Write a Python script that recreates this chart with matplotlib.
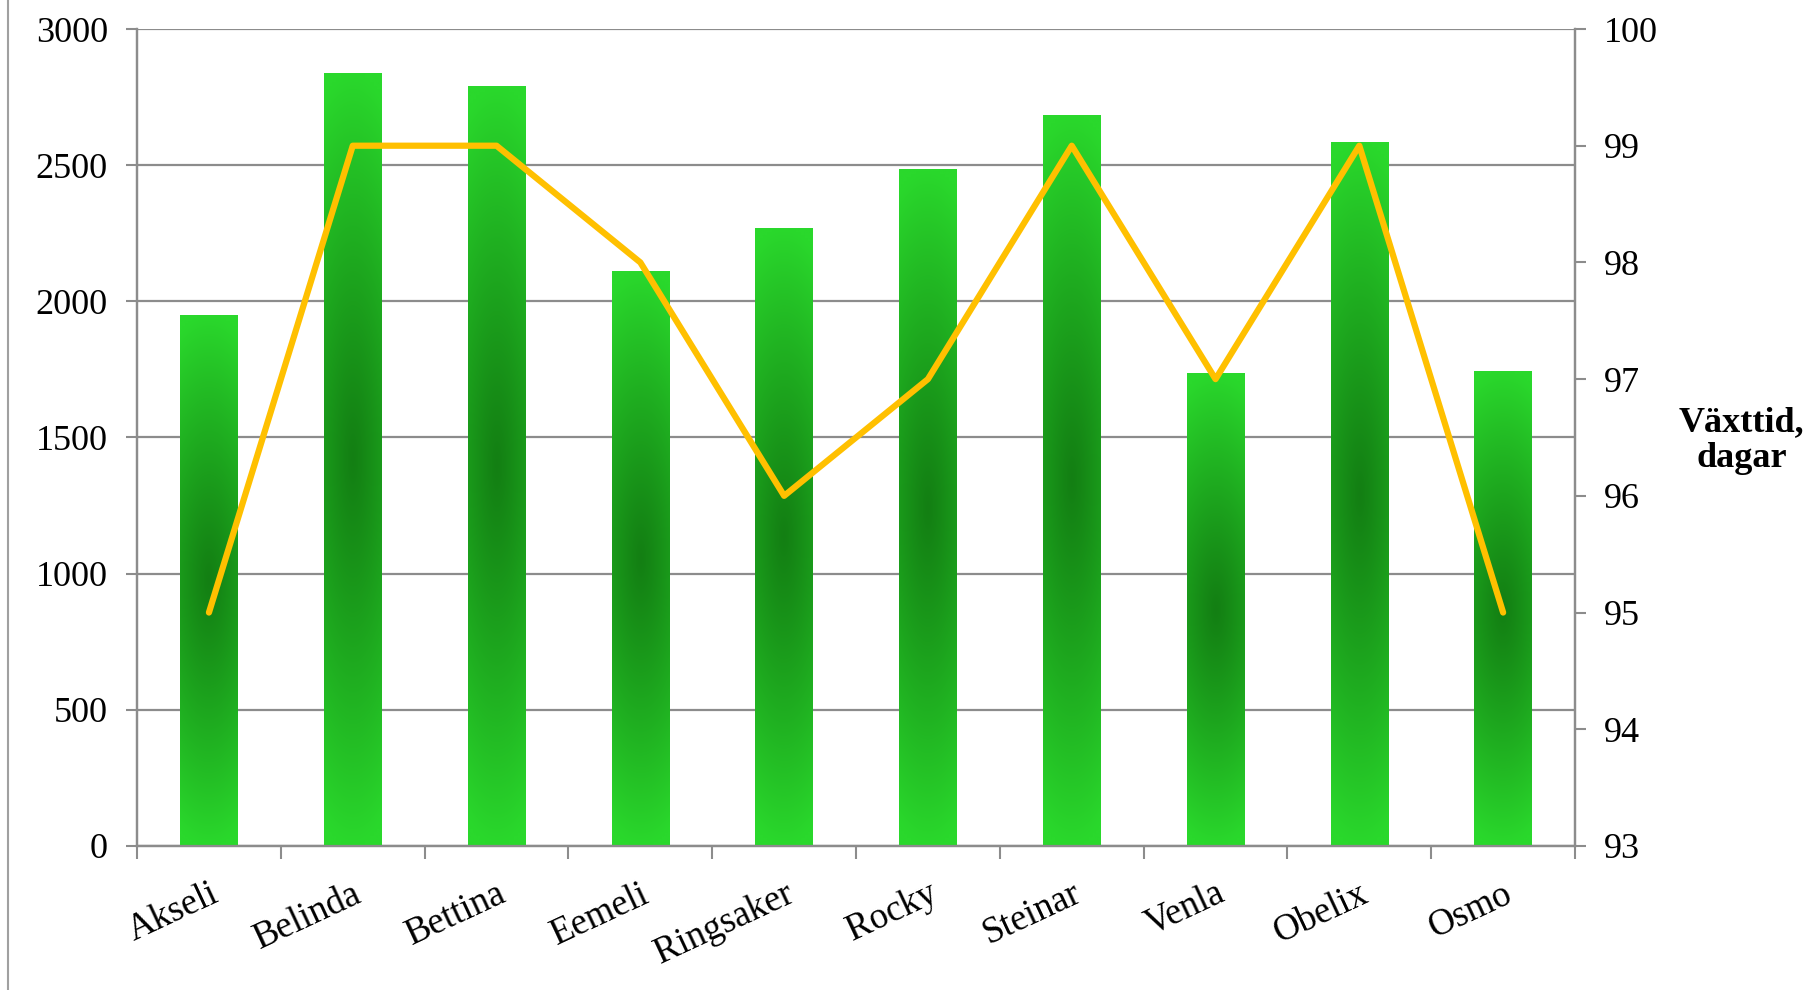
import numpy as np
import matplotlib
matplotlib.use("Agg")
import matplotlib.pyplot as plt
from matplotlib.colors import to_rgb
from matplotlib.lines import Line2D

categories = ["Akseli", "Belinda", "Bettina", "Eemeli", "Ringsaker",
              "Rocky", "Steinar", "Venla", "Obelix", "Osmo"]
yield_values = [1950, 2840, 2790, 2110, 2270, 2485, 2685, 1735, 2585, 1745]
growth_days = [95, 99, 99, 98, 96, 97, 99, 97, 99, 95]
left_ticks = [0, 500, 1000, 1500, 2000, 2500, 3000]
right_ticks = [93, 94, 95, 96, 97, 98, 99, 100]
right_label = "Växttid,\ndagar"

plt.rcParams['font.family'] = ['Liberation Serif', 'DejaVu Serif']

fig = plt.figure(figsize=(18.2, 9.9), dpi=100)
ax = fig.add_axes([0.0753, 0.1455, 0.7901, 0.8252])
ax2 = ax.twinx()
ax.set_zorder(1)
ax2.set_zorder(2)
ax.patch.set_visible(False)

x = np.arange(len(categories))
grid_col = "#8c8c8c"

bars = ax.bar(x, yield_values, width=0.40, color="none", edgecolor="none", zorder=3)

# gradient fill: light at the ends, dark in the middle
light = np.array(to_rgb("#2ad82c"))
dark = np.array(to_rgb("#137f13"))
ny, nx = 200, 40
yy, xx = np.mgrid[-1:1:complex(0, ny), -1:1:complex(0, nx)]
t = np.clip(np.sqrt(yy**2 + 0.12 * xx**2), 0, 1) ** 1.15
img = dark[None, None, :] + (light - dark)[None, None, :] * t[..., None]
for b in bars:
    x0, y0 = b.get_x(), b.get_y()
    w, h = b.get_width(), b.get_height()
    im = ax.imshow(img, extent=[x0, x0 + w, y0, y0 + h], aspect="auto",
                   zorder=3, interpolation="bilinear")
    im.set_clip_path(b)

ax.set_xlim(-0.5, len(categories) - 0.5)
ax.set_ylim(0, 3000)
ax.set_yticks(left_ticks)
ax.yaxis.grid(True, color=grid_col, linewidth=1.6, zorder=0)
ax.set_axisbelow(True)

ax.set_xticks(np.arange(len(categories) + 1) - 0.5)
ax.set_xticklabels([])
ax.set_xticks(x, minor=True)
ax.set_xticklabels(categories, minor=True, rotation=25, ha="right",
                   va="top", rotation_mode="anchor", fontsize=26.5)
ax.tick_params(axis="x", which="minor", length=0, pad=22)
ax.tick_params(axis="x", which="major", length=9, width=1.5, color=grid_col)
ax.tick_params(axis="y", length=8, width=1.5, color=grid_col, labelsize=26, pad=13)

ax2.plot(x, growth_days, color="#FFC000", linewidth=4.5,
         solid_joinstyle="round", solid_capstyle="round", zorder=5)
ax2.set_ylim(93, 100)
ax2.set_yticks(right_ticks)
ax2.tick_params(axis="y", length=8, width=1.5, color=grid_col, labelsize=26, pad=13)

for a in (ax, ax2):
    a.spines["top"].set_visible(False)
    for s in ("left", "right", "bottom"):
        a.spines[s].set_color(grid_col)
        a.spines[s].set_linewidth(1.6)

fig.text(0.957, 0.555, right_label, ha="center", va="center",
         fontsize=26, fontweight="bold", linespacing=1.1)

fig.add_artist(Line2D([0.0045, 0.0045], [0, 1], transform=fig.transFigure,
                      color="#a0a0a0", linewidth=1.5))

fig.savefig("out.png", dpi=100, facecolor="white")
